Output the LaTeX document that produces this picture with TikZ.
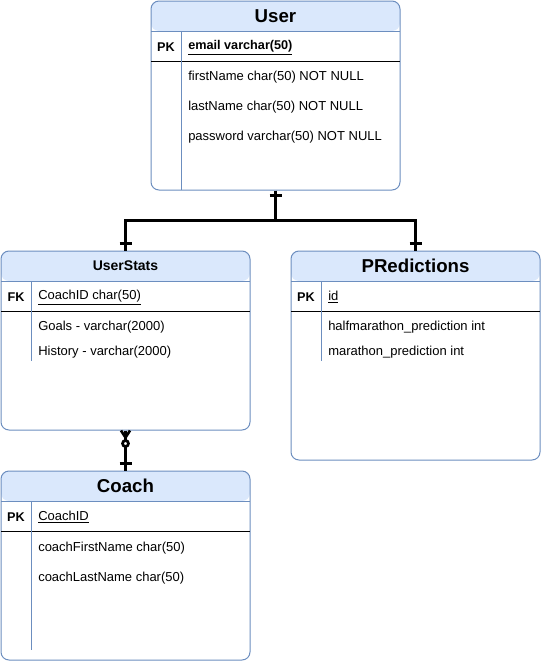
\documentclass[tikz,border=0pt]{standalone}
\usepackage{fontspec}
\setmainfont{Liberation Sans}
\usetikzlibrary{calc}
\definecolor{hdrfill}{HTML}{DAE8FC}
\definecolor{hdrline}{HTML}{6C8EBF}
\tikzset{
  entity/.style={draw=hdrline, line width=0.75pt, rounded corners=6pt, inner sep=0pt,
    minimum width=249*0.75pt,
    path picture={\fill[hdrfill] (path picture bounding box.north west) rectangle ([yshift=-22.5pt]path picture bounding box.north east);}},
  title/.style={font=\bfseries\fontsize{14}{16}\selectfont},
  keycol/.style={font=\bfseries\fontsize{9.5}{11}\selectfont, yshift=-0.75pt},
  field/.style={anchor=west, inner sep=0pt, yshift=-1pt, font=\fontsize{9.75}{11}\selectfont},
  sepline/.style={draw=hdrline, line width=0.75pt},
  keyline/.style={draw=black, line width=0.75pt},
  rel/.style={line width=2.25pt, black},
  relmark/.style={line width=2pt, black}
}
\begin{document}
\begin{tikzpicture}[x=0.75pt, y=-0.75pt]
  \useasboundingbox (0,0) rectangle (541,661);
  % tables
  \node[entity, minimum height=189*0.75pt] (user) at (275.5,95.5) {};
  \node[entity, minimum height=179*0.75pt] (stats) at (125.5,340.5) {};
  \node[entity, minimum height=209*0.75pt] (pred) at (415.5,355.5) {};
  \node[entity, minimum height=189*0.75pt] (coach) at (125.5,565.5) {};
  % User
  \draw[sepline] (151,31) -- (400,31);
  \draw[keyline] (151,61) -- (400,61);
  \draw[sepline] (181,31) -- (181,190);
  \node[title] (user-t) at (275.5,16) {User};
  \node[keycol] (user-k) at (166,46) {PK};
  \node[field, font=\bfseries\fontsize{9.5}{11}\selectfont] (user-0) at (188,46) {\underline{email varchar(50)}};
  \node[field] (user-1) at (188,76) {firstName char(50) NOT NULL};
  \node[field] (user-2) at (188,106) {lastName char(50) NOT NULL};
  \node[field] (user-3) at (188,136) {password varchar(50) NOT NULL};
  % UserStats
  \draw[sepline] (1,281) -- (250,281);
  \draw[keyline] (1,311) -- (250,311);
  \draw[sepline] (31,281) -- (31,361);
  \node[title, font=\bfseries\fontsize{10.5}{12}\selectfont] (stats-t) at (125.5,266) {UserStats};
  \node[keycol] (stats-k) at (16,296) {FK};
  \node[field] (stats-0) at (38,296) {\underline{CoachID char(50)}};
  \node[field] (stats-1) at (38,326) {Goals - varchar(2000)};
  \node[field] (stats-2) at (38,351) {History - varchar(2000)};
  % PRedictions
  \draw[sepline] (291,281) -- (540,281);
  \draw[keyline] (291,311) -- (540,311);
  \draw[sepline] (321,281) -- (321,361);
  \node[title] (pred-t) at (415.5,266) {PRedictions};
  \node[keycol] (pred-k) at (306,296) {PK};
  \node[field] (pred-0) at (328,296) {\underline{id}};
  \node[field] (pred-1) at (328,326) {halfmarathon\_prediction int};
  \node[field] (pred-2) at (328,351) {marathon\_prediction int};
  % Coach
  \draw[sepline] (1,501) -- (250,501);
  \draw[keyline] (1,531) -- (250,531);
  \draw[sepline] (31,501) -- (31,650);
  \node[title] (coach-t) at (125.5,486) {Coach};
  \node[keycol] (coach-k) at (16,516) {PK};
  \node[field] (coach-0) at (38,516) {\underline{CoachID}};
  \node[field] (coach-1) at (38,547) {coachFirstName char(50)};
  \node[field] (coach-2) at (38,577) {coachLastName char(50)};
  % relations
  \coordinate (fork) at (275.5,220);
  \draw[rel] (user.south) -- (fork);
  \draw[rel] (fork) -| (stats.north);
  \draw[rel] (fork) -| (pred.north);
  \draw[relmark] ($(user.south)+(-6,5)$) -- ($(user.south)+(6,5)$);
  \draw[relmark] ($(stats.north)+(-6,-7)$) -- ($(stats.north)+(6,-7)$);
  \draw[relmark] ($(pred.north)+(-6,-7)$) -- ($(pred.north)+(6,-7)$);
  \draw[rel] (stats.south) -- (coach.north);
  \draw[relmark] ($(stats.south)+(-4.5,0)$) -- ($(stats.south)+(0,7)$) -- ($(stats.south)+(4.5,0)$);
  \draw[relmark, fill=white] ($(stats.south)+(0,13)$) circle[radius=3*0.75pt];
  \draw[relmark] ($(coach.north)+(-6,-7)$) -- ($(coach.north)+(6,-7)$);
\end{tikzpicture}
\end{document}
